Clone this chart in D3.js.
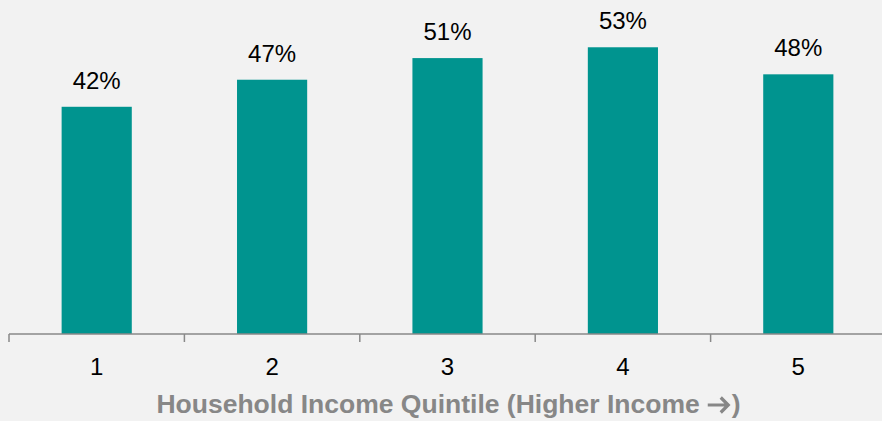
<!DOCTYPE html>
<html>
<head>
<meta charset="utf-8">
<script src="https://cdn.jsdelivr.net/npm/d3@7"></script>
<style>
  body { margin: 0; background: #f2f2f2; }
  svg { display: block; font-family: Arial, "Liberation Sans", sans-serif; }
</style>
</head>
<body>
<div id="chart"></div>
<script>
// quintiles and share per quintile (%)
const quintiles = ["1", "2", "3", "4", "5"];
const shares = [42, 47, 51, 53, 48];
const titleText = "Household Income Quintile (Higher Income";
const titleEnd = ")";

const width = 882, height = 421;

const svg = d3.select("#chart")
  .append("svg")
  .attr("width", width)
  .attr("height", height)
  .style("background", "#f2f2f2");

const baseY = 334;

const x = d3.scaleBand()
  .domain(quintiles)
  .range([9, 886])
  .paddingInner(0.6)
  .paddingOuter(0.3);

const y = d3.scaleLinear()
  .domain([0, 100])
  .range([baseY, baseY - 541]);

// bars
svg.selectAll("rect.bar")
  .data(shares)
  .enter()
  .append("rect")
  .attr("class", "bar")
  .attr("x", (d, i) => x(quintiles[i]))
  .attr("y", d => y(d))
  .attr("width", x.bandwidth())
  .attr("height", d => baseY - y(d))
  .attr("fill", "#00948f");

// value labels
svg.selectAll("text.val")
  .data(shares)
  .enter()
  .append("text")
  .attr("class", "val")
  .attr("x", (d, i) => x(quintiles[i]) + x.bandwidth() / 2)
  .attr("y", d => y(d) - 18)
  .attr("text-anchor", "middle")
  .style("font-size", "24px")
  .style("fill", "#000")
  .text(d => d + "%");

// x axis: ticks between categories
const axisG = svg.append("g");
const step = x.step();
const start = x.range()[0];
axisG.append("line")
  .attr("x1", start).attr("x2", width)
  .attr("y1", baseY).attr("y2", baseY)
  .attr("stroke", "#898989").attr("stroke-width", 1.5);

const tickXs = d3.range(quintiles.length + 1).map(i => start + i * step);
axisG.selectAll("line.tick")
  .data(tickXs)
  .enter()
  .append("line")
  .attr("class", "tick")
  .attr("x1", d => d).attr("x2", d => d)
  .attr("y1", baseY).attr("y2", baseY + 8)
  .attr("stroke", "#898989").attr("stroke-width", 1.5);

axisG.selectAll("text.cat")
  .data(quintiles)
  .enter()
  .append("text")
  .attr("class", "cat")
  .attr("x", d => x(d) + x.bandwidth() / 2)
  .attr("y", 375)
  .attr("text-anchor", "middle")
  .style("font-size", "24px")
  .style("fill", "#000")
  .text(d => d);

// axis title with a drawn arrow
const titleG = svg.append("g");
const gray = "#878787";
const t1 = titleG.append("text")
  .attr("x", 0)
  .attr("y", 413)
  .style("font-size", "26.5px")
  .style("font-weight", "bold")
  .style("fill", gray)
  .text(titleText);
const w1 = t1.node().getComputedTextLength();
const arrowW = 22;
const arrowX = w1 + 8;
titleG.append("path")
  .attr("d", `M${arrowX},405 H${arrowX + arrowW - 2} M${arrowX + arrowW - 9},397.5 L${arrowX + arrowW - 1.5},405 L${arrowX + arrowW - 9},412.5`)
  .attr("fill", "none")
  .attr("stroke", gray)
  .attr("stroke-width", 3.2);
const t2 = titleG.append("text")
  .attr("x", arrowX + arrowW + 2)
  .attr("y", 413)
  .style("font-size", "26.5px")
  .style("font-weight", "bold")
  .style("fill", gray)
  .text(titleEnd);
const total = arrowX + arrowW + 2 + t2.node().getComputedTextLength();
titleG.attr("transform", `translate(${448.5 - total / 2},0)`);
</script>
</body>
</html>
